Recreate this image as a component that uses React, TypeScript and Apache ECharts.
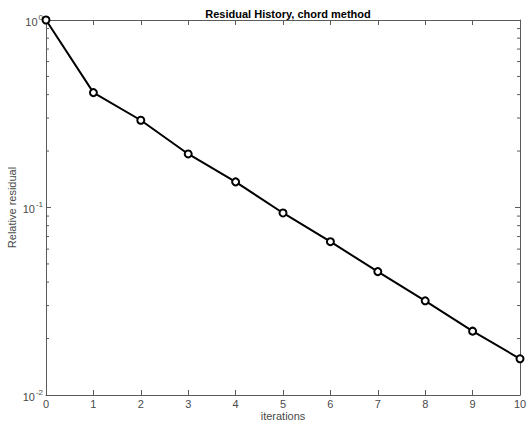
import React, { useEffect, useRef } from "react";
import * as echarts from "echarts";

const iterations = [0, 1, 2, 3, 4, 5, 6, 7, 8, 9, 10];
const residuals = [1.0, 0.41, 0.292, 0.193, 0.137, 0.0935, 0.0657, 0.0455, 0.0318, 0.0219, 0.0156];
const minorTickValues = [0.02, 0.03, 0.04, 0.05, 0.06, 0.07, 0.08, 0.09, 0.2, 0.3, 0.4, 0.5, 0.6, 0.7, 0.8, 0.9];
const titleText = "Residual History, chord method";
const xName = "iterations";
const yName = "Relative residual";

const AXIS_COLOR = "#5a5a5a";
const LABEL_COLOR = "#4a4a4a";
const FONT = "Liberation Sans, Arial, sans-serif";

export default function App() {
  const ref = useRef<HTMLDivElement>(null);
  useEffect(() => {
    document.body.style.margin = "0";
    const chart = echarts.init(ref.current!, null, { renderer: "svg" });
    const supLabel = (v: number) => {
      const e = Math.round(Math.log10(v));
      return `{b|10}{s|${e}}`;
    };
    const commonX = {
      type: "value" as const,
      min: 0,
      max: 10,
      interval: 1,
      splitLine: { show: false },
      axisLine: { show: true, onZero: false, lineStyle: { color: AXIS_COLOR, width: 1 } },
      axisTick: { show: true, inside: true, length: 5, lineStyle: { color: AXIS_COLOR } },
    };
    const commonY = {
      type: "log" as const,
      logBase: 10,
      min: 0.01,
      max: 1,
      splitLine: { show: false },
      axisLine: { show: true, onZero: false, lineStyle: { color: AXIS_COLOR, width: 1 } },
      axisTick: { show: true, inside: true, length: 5, lineStyle: { color: AXIS_COLOR } },
    };
    chart.setOption({
      animation: false,
      textStyle: { fontFamily: FONT },
      title: {
        text: titleText,
        left: 283,
        top: 3,
        textAlign: "center",
        textStyle: { fontSize: 11, fontWeight: "bold", color: "#000", fontFamily: FONT },
      },
      grid: { left: 46, right: 9, top: 20, bottom: 27, containLabel: false, outerBoundsMode: "none" },
      xAxis: [
        {
          ...commonX,
          position: "bottom",
          name: xName,
          nameLocation: "middle",
          nameGap: 15,
          nameMoveOverlap: false,
          nameTextStyle: { fontSize: 11, lineHeight: 11, color: LABEL_COLOR, fontFamily: FONT },
          axisLabel: { show: true, margin: 3, fontSize: 11, lineHeight: 11, color: LABEL_COLOR, fontFamily: FONT },
        },
        {
          ...commonX,
          position: "top",
          axisLabel: { show: false },
        },
      ],
      yAxis: [
        {
          ...commonY,
          position: "left",
          name: yName,
          nameLocation: "middle",
          nameGap: 29,
          nameRotate: 90,
          nameMoveOverlap: false,
          nameTextStyle: { fontSize: 11, color: LABEL_COLOR, fontFamily: FONT },
          axisLabel: {
            show: true,
            margin: 3,
            formatter: supLabel,
            rich: {
              b: { fontSize: 11, color: LABEL_COLOR, fontFamily: FONT, verticalAlign: "bottom" },
              s: { fontSize: 8, color: LABEL_COLOR, fontFamily: FONT, verticalAlign: "top", padding: [0, 0, 6, 1] },
            },
          },
        },
        {
          ...commonY,
          position: "right",
          axisLabel: { show: false },
        },
      ],
      series: [
        {
          type: "line",
          xAxisIndex: 0,
          yAxisIndex: 0,
          data: iterations.map((x, i) => [x, residuals[i]]),
          lineStyle: { color: "#000", width: 2 },
          symbol: "circle",
          symbolSize: 7,
          itemStyle: { color: "#fff", borderColor: "#000", borderWidth: 2 },
          clip: false,
          z: 5,
        },
        {
          type: "custom",
          xAxisIndex: 0,
          yAxisIndex: 0,
          silent: true,
          clip: false,
          data: minorTickValues.map((v) => [0, v]),
          renderItem: (params: any, api: any) => {
            const v = api.value(1);
            const left = api.coord([0, v]);
            const right = api.coord([10, v]);
            const style = { stroke: AXIS_COLOR, lineWidth: 1 };
            return {
              type: "group",
              children: [
                { type: "line", shape: { x1: left[0], y1: left[1], x2: left[0] + 3, y2: left[1] }, style },
                { type: "line", shape: { x1: right[0] - 3, y1: right[1], x2: right[0], y2: right[1] }, style },
              ],
            };
          },
        },
      ],
    });
    return () => chart.dispose();
  }, []);
  return <div ref={ref} style={{ width: 529, height: 422 }} />;
}
